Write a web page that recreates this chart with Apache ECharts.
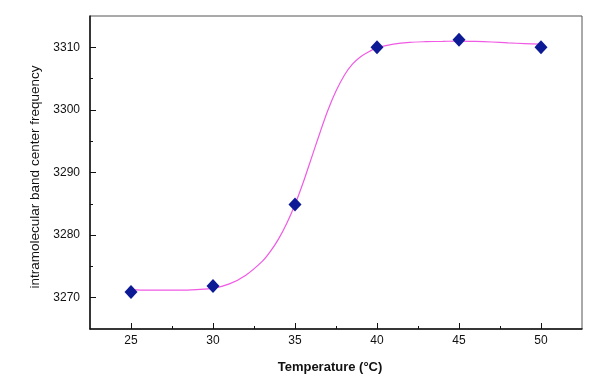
<!DOCTYPE html>
<html>
<head>
<meta charset="utf-8">
<script src="https://cdn.jsdelivr.net/npm/echarts@6/dist/echarts.min.js"></script>
<style>html,body{margin:0;padding:0;background:#fff}#c{width:600px;height:388px}</style>
</head>
<body>
<div id="c"></div>
<script>
// Measured points
const tempX = [25, 30, 35, 40, 45, 50];
const freqY = [3270.9, 3271.85, 3284.9, 3310.0, 3311.2, 3310.0];
// Fitted curve
const curveX = [25, 26, 27, 28, 29, 30, 31, 32, 33, 33.5, 34, 34.5, 35, 35.5, 36, 36.5, 37, 37.5, 38, 38.5, 39, 39.5, 40, 41, 42, 43, 44, 45, 46, 47, 48, 49, 50];
const curveY = [3271.3, 3271.2, 3271.2, 3271.2, 3271.3, 3271.5, 3272.2, 3273.6, 3275.8, 3277.4, 3279.4, 3281.9, 3284.9, 3288.4, 3292.3, 3296.2, 3299.9, 3303.0, 3305.5, 3307.3, 3308.5, 3309.3, 3309.9, 3310.5, 3310.8, 3310.9, 3310.95, 3311.0, 3310.95, 3310.85, 3310.7, 3310.6, 3310.5];
// Ticks
const xMajor = [25, 30, 35, 40, 45, 50];
const xMinor = [27.5, 32.5, 37.5, 42.5, 47.5];
const yMajor = [3270, 3280, 3290, 3300, 3310];
const yMinor = [3275, 3285, 3295, 3305];

const FONT = '"Liberation Sans", Arial, sans-serif';
const chart = echarts.init(document.getElementById('c'), null, {renderer: 'canvas'});
const xBase = {type: 'value', min: 22.5, max: 52.5, splitLine: {show: false}, gridIndex: 0};
const yBase = {type: 'value', min: 3265, max: 3315, splitLine: {show: false}, gridIndex: 0};
chart.setOption({
  animation: false,
  backgroundColor: '#fff',
  grid: {left: 90, top: 16, right: 18, bottom: 59, show: true, borderColor: '#555', borderWidth: 1, backgroundColor: 'transparent'},
  xAxis: [
    Object.assign({}, xBase, {
      position: 'bottom',
      axisLine: {show: true, lineStyle: {color: '#111', width: 1.5}},
      axisTick: {show: true, inside: true, length: 6, customValues: xMajor, lineStyle: {color: '#111'}},
      axisLabel: {show: true, customValues: xMajor, margin: 6, color: '#111', fontSize: 12, fontFamily: FONT},
      name: 'Temperature (°C)', nameLocation: 'middle', nameGap: 32,
      nameTextStyle: {color: '#111', fontSize: 13, fontWeight: 'bold', fontFamily: FONT, padding: [0, 12, 0, 0]}
    }),
    Object.assign({}, xBase, {
      position: 'bottom',
      axisLine: {show: false},
      axisTick: {show: true, inside: true, length: 3, customValues: xMinor, lineStyle: {color: '#111'}},
      axisLabel: {show: false}
    })
  ],
  yAxis: [
    Object.assign({}, yBase, {
      position: 'left',
      axisLine: {show: true, lineStyle: {color: '#111', width: 1.5}},
      axisTick: {show: true, inside: true, length: 6, customValues: yMajor, lineStyle: {color: '#111'}},
      axisLabel: {show: true, customValues: yMajor, margin: 10, color: '#111', fontSize: 12, fontFamily: FONT,
        formatter: v => String(v)},
      name: 'intramolecular band center frequency', nameLocation: 'middle', nameGap: 48,
      nameTextStyle: {color: '#111', fontSize: 13.5, fontFamily: FONT, padding: [0, 9, 0, 0]}
    }),
    Object.assign({}, yBase, {
      position: 'left',
      axisLine: {show: false},
      axisTick: {show: true, inside: true, length: 3, customValues: yMinor, lineStyle: {color: '#111'}},
      axisLabel: {show: false}
    })
  ],
  series: [
    {
      type: 'line', xAxisIndex: 0, yAxisIndex: 0,
      data: curveX.map((x, i) => [x, curveY[i]]),
      smooth: 0.3, showSymbol: false, symbol: 'none',
      lineStyle: {color: '#f05ae4', width: 1.2}, z: 2
    },
    {
      type: 'scatter', xAxisIndex: 0, yAxisIndex: 0,
      data: tempX.map((x, i) => [x, freqY[i]]),
      symbol: 'diamond', symbolSize: [13, 14],
      itemStyle: {color: '#0c1a96', opacity: 1}, z: 3
    }
  ]
});
</script>
</body>
</html>
